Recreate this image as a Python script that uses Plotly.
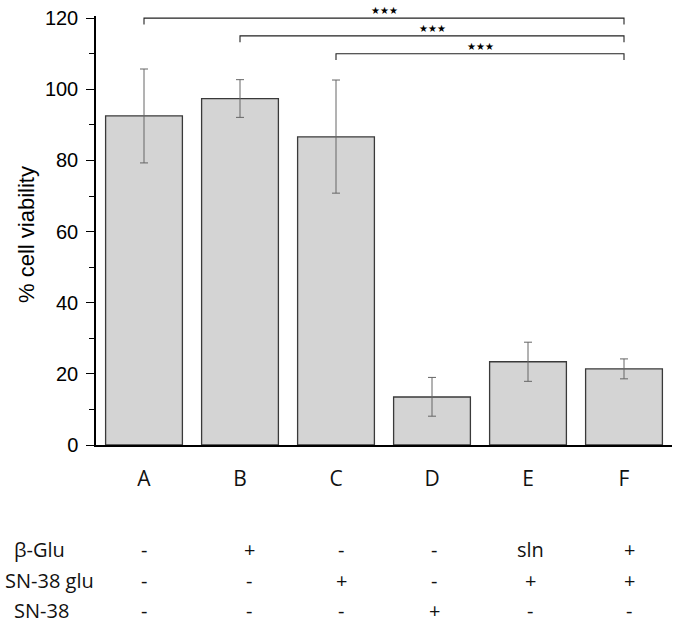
import plotly.graph_objects as go

categories = ["A", "B", "C", "D", "E", "F"]
viability = [92.5, 97.4, 86.6, 13.5, 23.4, 21.4]
err_plus = [13.2, 5.3, 16.0, 5.5, 5.5, 2.8]
err_minus = [13.2, 5.3, 15.8, 5.4, 5.5, 2.8]

row_labels = ["β-Glu", "SN-38 glu", "SN-38"]
row_beta_glu = ["-", "+", "-", "-", "sln", "+"]
row_sn38_glu = ["-", "-", "+", "-", "+", "+"]
row_sn38 = ["-", "-", "-", "+", "-", "-"]
rows = [row_beta_glu, row_sn38_glu, row_sn38]

# significance brackets: (from category, to category, y level)
brackets = [("A", "F", 120.0), ("B", "F", 115.0), ("C", "F", 110.0)]
sig_label = "★★★"

W, H = 677, 625
ML, MR, MT, MB = 96, 5, 16, 180
plot_h = H - MT - MB

def py_to_paper(py):
    return (H - MB - py) / plot_h

fig = go.Figure()
fig.add_trace(go.Bar(
    x=categories, y=viability, width=0.8,
    marker=dict(color="#d4d4d4", line=dict(color="#3a3a3a", width=1.3)),
    error_y=dict(type="data", symmetric=False, array=err_plus, arrayminus=err_minus,
                 color="#666666", thickness=1, width=4),
    showlegend=False,
))

cat_idx = {c: i for i, c in enumerate(categories)}
shapes = []
annotations = []
for a, b, yv in brackets:
    xa, xb = cat_idx[a], cat_idx[b]
    drop = 1.8
    shapes.append(dict(type="path", xref="x", yref="y",
                       path=f"M {xa},{yv-drop} L {xa},{yv} L {xb},{yv} L {xb},{yv-drop}",
                       line=dict(color="#222222", width=1.1)))
    annotations.append(dict(x=(xa + xb) / 2, y=yv, xref="x", yref="y", text=sig_label,
                            showarrow=False, yanchor="bottom", yshift=0,
                            font=dict(family="DejaVu Sans", size=10, color="black")))

table_font = dict(family="Open Sans, Noto Sans, sans-serif", size=20, color="#111111")
row_py = [549, 580, 610]
label_x_px = [12, 3, 12]
col_shift = [0, 9, 5, 2, 2, 5]
for r, (lab, vals) in enumerate(zip(row_labels, rows)):
    yp = py_to_paper(row_py[r])
    annotations.append(dict(x=(label_x_px[r] - ML) / (W - ML - MR), y=yp, xref="paper", yref="paper",
                            text=lab, showarrow=False, xanchor="left", yanchor="middle",
                            font=table_font))
    for c, v, sh in zip(categories, vals, col_shift):
        annotations.append(dict(x=c, y=yp, xref="x", yref="paper", text=v, showarrow=False,
                                xanchor="center", yanchor="middle", xshift=sh, font=table_font))

annotations.append(dict(x=(27 - ML) / (W - ML - MR), y=py_to_paper(235), xref="paper", yref="paper",
                        text="% cell viability", textangle=-90, showarrow=False,
                        xanchor="center", yanchor="middle",
                        font=dict(family="Liberation Sans, Arial, sans-serif", size=22, color="black")))

fig.update_layout(
    width=W, height=H,
    margin=dict(l=ML, r=MR, t=MT, b=MB),
    plot_bgcolor="white", paper_bgcolor="white",
    shapes=shapes, annotations=annotations,
    bargap=0.2,
    xaxis=dict(range=[-0.5, 5.5], showline=True, linecolor="black", linewidth=1.5,
               ticks="", showgrid=False, zeroline=False,
               tickfont=dict(family="Open Sans, Noto Sans, sans-serif", size=21, color="#111111"),
               ticklabelstandoff=14),
    yaxis=dict(range=[0, 120.6], showline=True, linecolor="black", linewidth=1.5,
               ticks="outside", ticklen=8, tickwidth=1.3, tickcolor="black",
               tick0=0, dtick=20, showgrid=False, zeroline=False,
               tickfont=dict(family="Liberation Sans, Arial, sans-serif", size=20, color="black"),
               ticklabelstandoff=4,
               minor=dict(ticks="outside", ticklen=5, tickwidth=1.3, tickcolor="black", dtick=10)),
)

fig.write_html("out.html", config={"displayModeBar": False},
               post_script="document.body.style.margin='0';document.body.style.overflow='hidden';")
